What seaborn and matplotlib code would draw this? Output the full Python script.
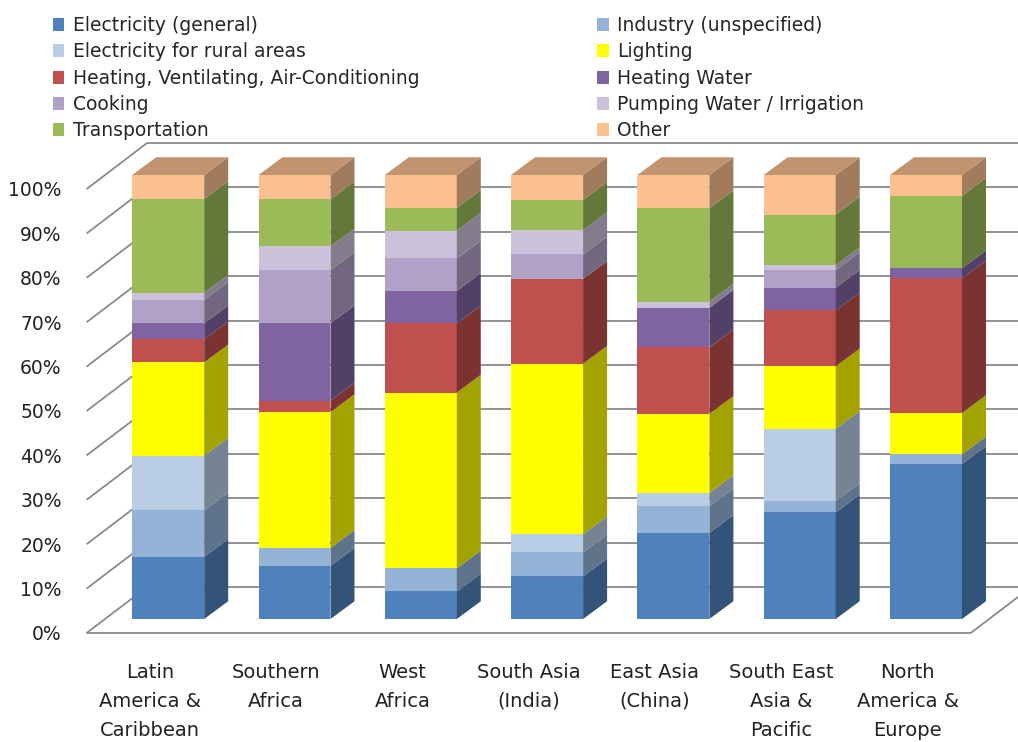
import numpy as np
import pandas as pd
import matplotlib
matplotlib.use("Agg")
import matplotlib.pyplot as plt
import seaborn as sns
from matplotlib.patches import Patch
from matplotlib.colors import to_rgb

# ---- data: share of end uses per region (percent) ----
regions = [
    "Latin\nAmerica &\nCaribbean",
    "Southern\nAfrica",
    "West\nAfrica",
    "South Asia\n(India)",
    "East Asia\n(China)",
    "South East\nAsia &\nPacific",
    "North\nAmerica &\nEurope",
]
uses = [
    "Electricity (general)",
    "Industry (unspecified)",
    "Electricity for rural areas",
    "Lighting",
    "Heating, Ventilating, Air-Conditioning",
    "Heating Water",
    "Cooking",
    "Pumping Water / Irrigation",
    "Transportation",
    "Other",
]
electricity_general = [14.0, 12.0, 6.2, 9.6, 19.4, 24.0, 34.9]
industry = [10.5, 4.0, 5.2, 5.4, 6.0, 2.6, 2.2]
rural_electricity = [12.3, 0.0, 0.0, 4.1, 3.0, 16.3, 0.0]
lighting = [21.0, 30.6, 39.6, 38.4, 17.8, 14.0, 9.3]
hvac = [5.2, 2.6, 15.6, 19.1, 15.0, 12.6, 30.3]
heating_water = [3.6, 17.4, 7.3, 0.0, 8.9, 5.1, 2.3]
cooking = [5.3, 12.0, 7.3, 5.5, 0.0, 4.0, 0.0]
pumping = [1.6, 5.3, 6.3, 5.5, 1.4, 1.1, 0.0]
transportation = [21.1, 10.6, 5.1, 6.8, 21.0, 11.4, 16.3]
other = [5.4, 5.5, 7.4, 5.6, 7.5, 8.9, 4.7]

tick_values = [0, 10, 20, 30, 40, 50, 60, 70, 80, 90, 100]
tick_labels = [f"{v}%" for v in tick_values]

colors = ["#4F81BD", "#95B3D7", "#B9CDE5", "#FFFF00", "#C0504D",
          "#8064A2", "#B2A1C7", "#CCC1DA", "#9BBB59", "#FAC090"]

df = pd.DataFrame(
    np.column_stack([electricity_general, industry, rural_electricity, lighting,
                     hvac, heating_water, cooking, pumping, transportation, other]),
    index=regions, columns=uses)
cum = df.cumsum(axis=1)
base = cum - df

# ---- geometry of the oblique 3-D look (category units / percent units) ----
BAR_W = 0.57
DEPTH_X, DEPTH_Y = 0.19, 4.0          # bar depth
FLOOR_X, FLOOR_Y = -0.146, -3.15      # front edge of floor relative to bar faces
WALL_X, WALL_Y = 0.479, 10.36         # floor front edge -> back wall

def shade(c, f):
    r, g, b = to_rgb(c)
    return (r * f, g * f, b * f)

sns.set_style("white")
plt.rcParams["font.family"] = ["DejaVu Sans"]

fig = plt.figure(figsize=(10.18, 7.42), dpi=100)
ax = fig.add_axes([70 / 1018, 92 / 742, 948 / 1018, 515 / 742])

# front faces: overlay cumulative totals, tallest first
for use, col in reversed(list(zip(uses, colors))):
    sns.barplot(x=regions, y=cum[use].values, order=regions, color=col,
                saturation=1, width=BAR_W, errorbar=None, linewidth=0,
                ax=ax, zorder=3)

# side and top faces
n = len(regions)
for i in range(n):
    xr = i + BAR_W / 2
    xl = i - BAR_W / 2
    top_col = None
    for use, col in zip(uses, colors):
        y0, y1 = base.iloc[i][use], cum.iloc[i][use]
        if y1 - y0 <= 0:
            continue
        ax.fill([xr, xr + DEPTH_X, xr + DEPTH_X, xr],
                [y0, y0 + DEPTH_Y, y1 + DEPTH_Y, y1],
                color=shade(col, 0.64), lw=0, zorder=3)
        top_col = col
    ytop = cum.iloc[i].iloc[-1]
    ax.fill([xl, xr, xr + DEPTH_X, xl + DEPTH_X],
            [ytop, ytop, ytop + DEPTH_Y, ytop + DEPTH_Y],
            color=shade(top_col, 0.77), lw=0, zorder=3)

# walls, floor and gridlines
grid_kw = dict(color="#8a8a8a", lw=1.3, zorder=1, solid_capstyle="butt")
x_front_left = -0.5 + FLOOR_X
x_front_right = n - 0.5 + FLOOR_X
x_wall_left = x_front_left + WALL_X
for v in tick_values:
    yf = v + FLOOR_Y
    ax.plot([x_front_left, x_wall_left], [yf, yf + WALL_Y], **grid_kw)
    ax.plot([x_wall_left, n + 2], [yf + WALL_Y, yf + WALL_Y], **grid_kw)
ax.plot([x_front_left, x_front_right, x_front_right + WALL_X],
        [FLOOR_Y, FLOOR_Y, FLOOR_Y + WALL_Y], **grid_kw)

ax.set_xlim((70 - 168.2) / 126.3, (1018 - 168.2) / 126.3)
ax.set_ylim((619 - 650) / 4.44, (619 - 135) / 4.44)

ax.set_yticks([v + FLOOR_Y for v in tick_values], tick_labels, fontsize=13.5,
              color="#222222")
ax.set_xticks([i + FLOOR_X for i in range(n)], regions, fontsize=14,
              color="#222222", linespacing=1.68)
ax.tick_params(axis="both", length=0)
ax.tick_params(axis="y", pad=6)
ax.tick_params(axis="x", pad=9)
ax.set_xlabel("")
ax.set_ylabel("")
for s in ax.spines.values():
    s.set_visible(False)

# legend, row-major order in two columns
order = [0, 2, 4, 6, 8, 1, 3, 5, 7, 9]
handles = [Patch(facecolor=colors[k], edgecolor="none", label=uses[k]) for k in order]
fig.legend(handles=handles, ncol=2, loc="upper left",
           bbox_to_anchor=(53 / 1018, 1 - 16 / 742), frameon=False,
           fontsize=13.5, handlelength=0.6, handleheight=0.7,
           handletextpad=0.45, labelspacing=0.39, columnspacing=9.5,
           borderpad=0, borderaxespad=0)

fig.savefig("out.png", dpi=100)
